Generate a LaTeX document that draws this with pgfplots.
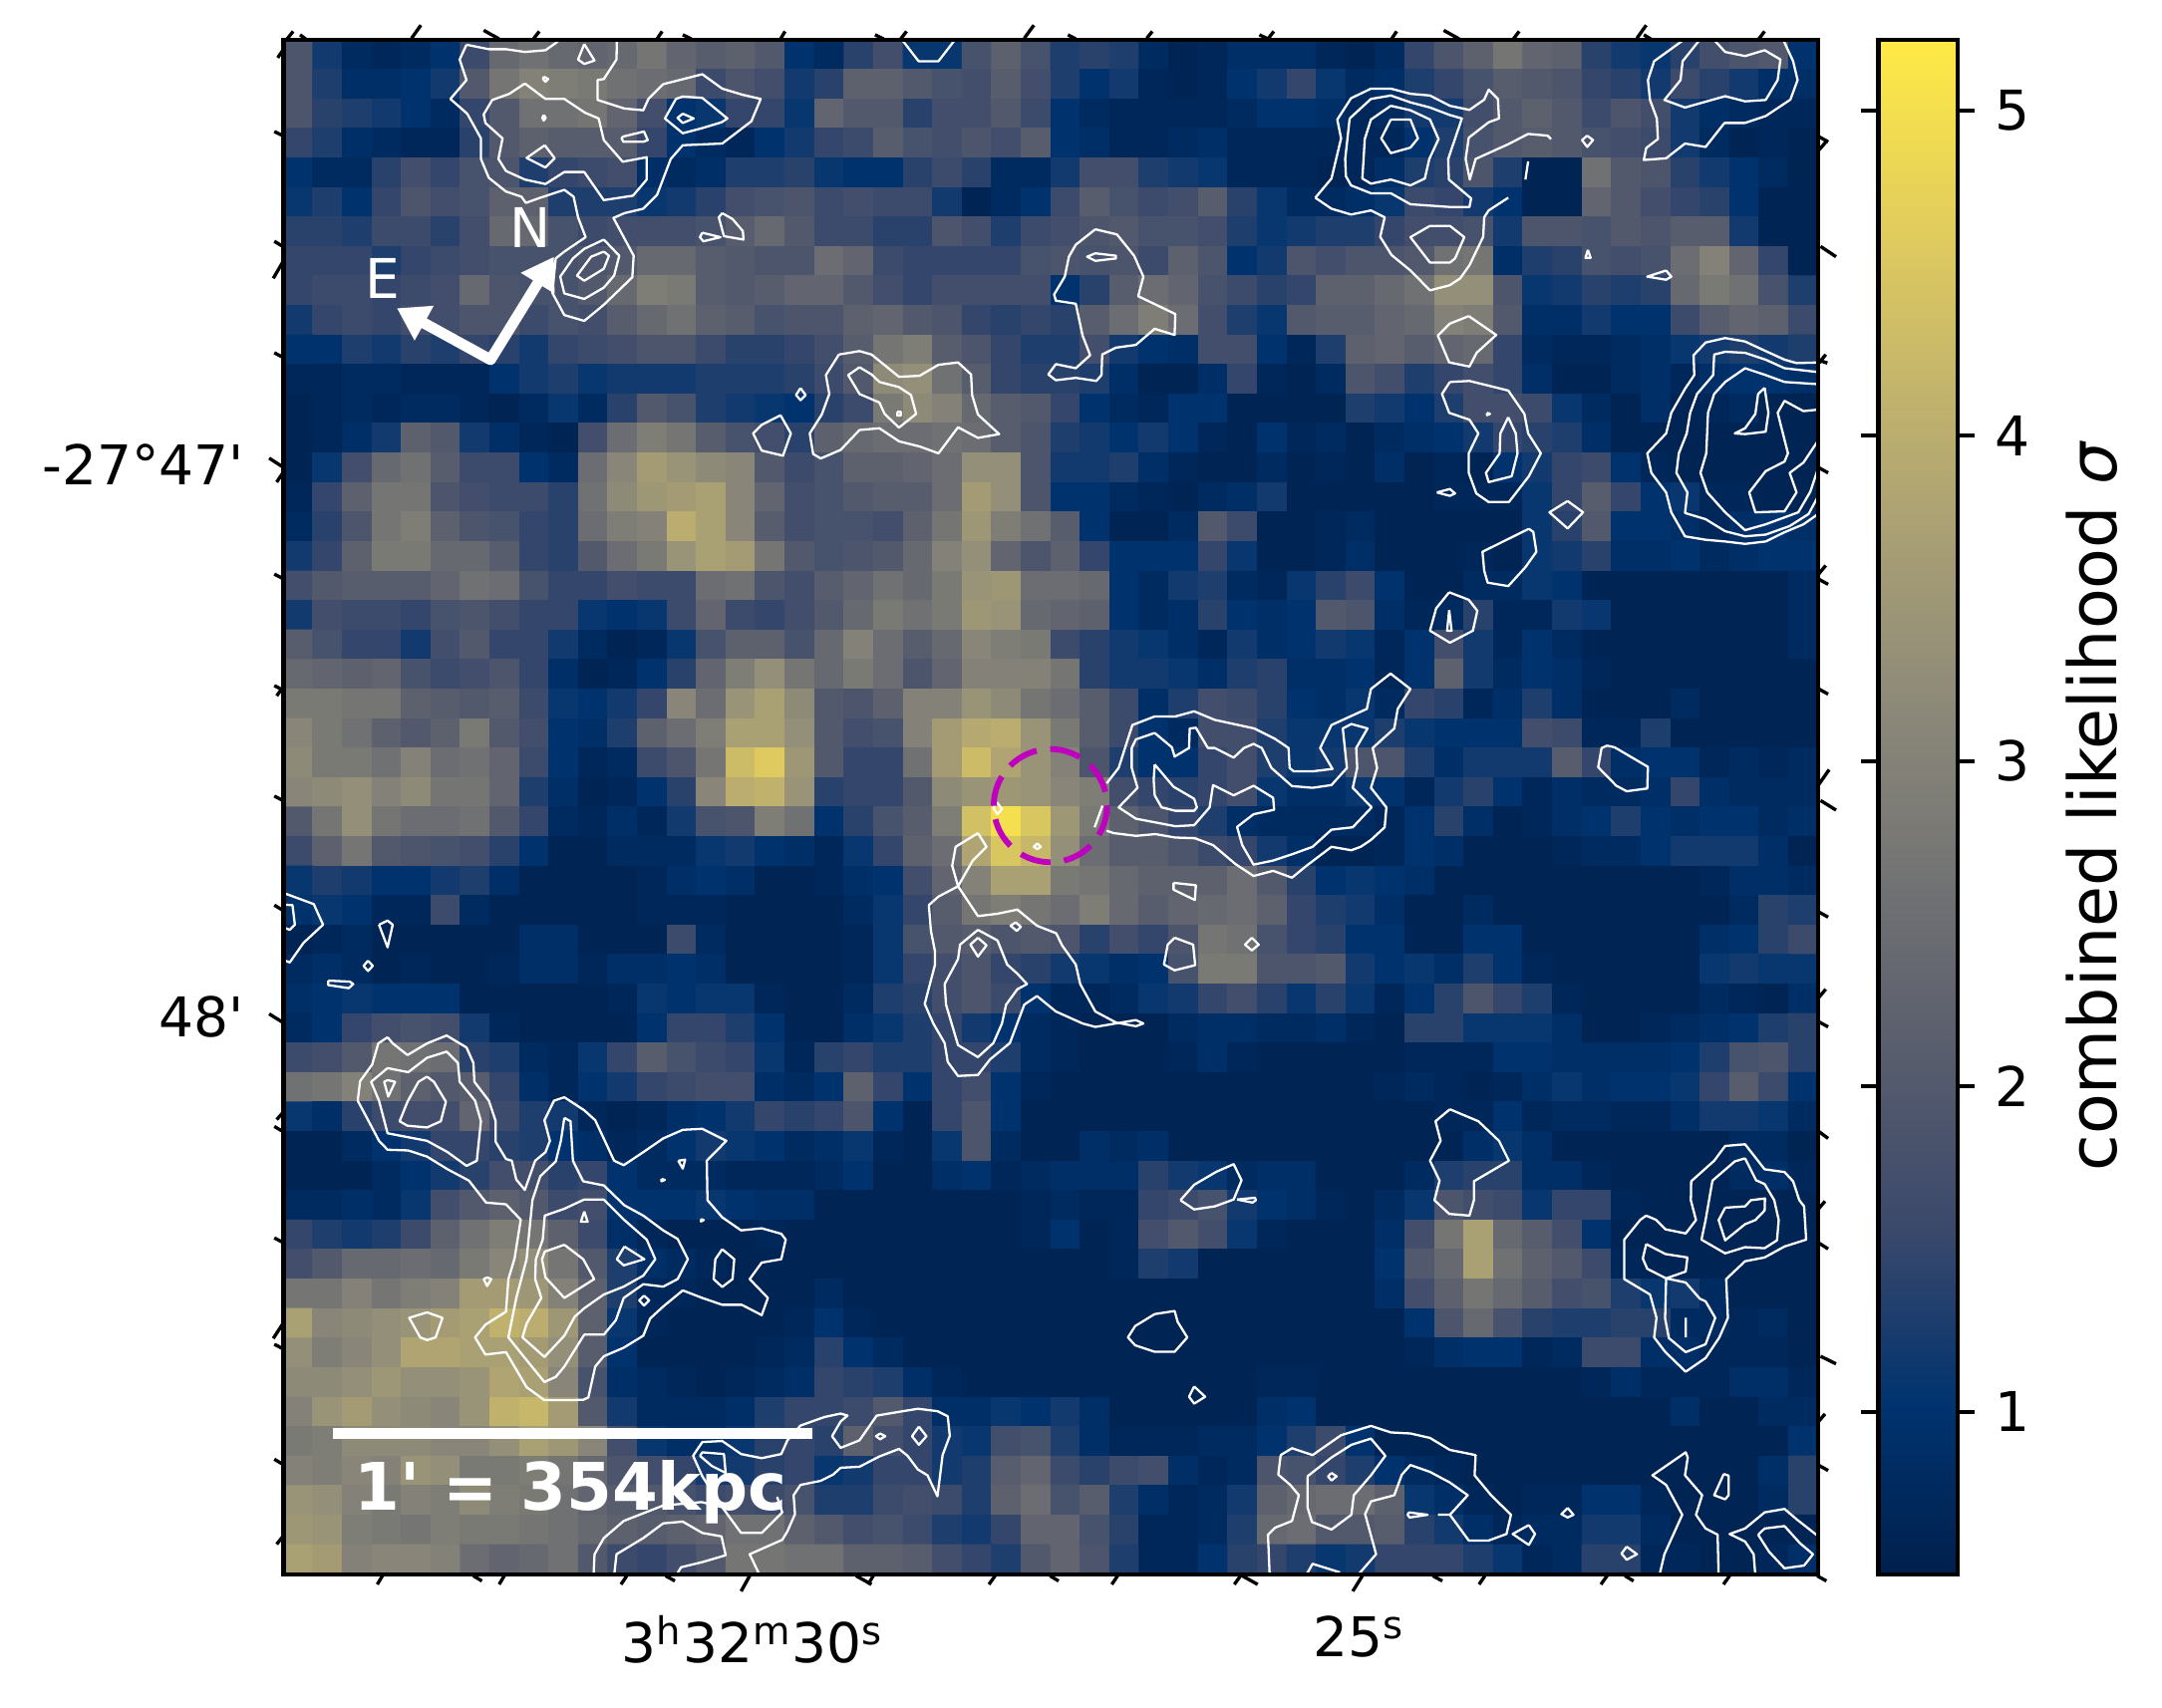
\documentclass[border=0pt]{standalone}
\usepackage{fontspec}
\setmainfont{DejaVu Sans}[Ligatures=TeXOff]
\usepackage{pgfplots}
\pgfplotsset{compat=1.18}
\usetikzlibrary{arrows.meta}
\pgfplotsset{colormap={cividis}{rgb255=(0,32,77) rgb255=(0,51,111) rgb255=(57,72,107) rgb255=(87,92,109) rgb255=(112,113,115) rgb255=(138,135,121) rgb255=(166,157,117) rgb255=(196,181,108) rgb255=(228,207,91) rgb255=(255,234,70)}}
\newcommand\mf{\fontsize{13.2}{16}\selectfont}
% heat map rows, top to bottom, values in tenths of sigma
\newcount\hi \newcount\hj
\def\cells{}
\newcommand\heatrow[1]{\hi=0 \def\rowcells{}%
  \pgfplotsforeachungrouped \v in {#1}{\pgfmathparse{\v/10}%
    \edef\rowcells{\rowcells (\the\numexpr 85+86*\hi\relax,\the\numexpr 87+86*\hj\relax)[\pgfmathresult] }%
    \advance\hi by 1 }%
  \xdef\cells{\cells\rowcells}\advance\hj by 1 }
\heatrow{19,12,8,7,8,10,16,24,26,24,23,24,27,23,21,22,20,10,8,14,17,11,11,18,22,18,13,14,13,8,6,7,9,9,9,7,6,8,15,19,22,27,23,22,14,12,11,14,17,19,20,10}
\heatrow{19,13,9,9,10,12,20,27,30,29,28,26,25,24,16,19,17,12,14,22,22,20,18,17,21,17,13,10,12,7,6,7,10,12,15,11,8,9,13,15,18,21,20,19,15,14,12,16,14,12,9,9}
\heatrow{19,14,13,12,10,8,15,20,26,26,27,23,17,10,11,15,15,11,23,20,20,14,17,17,20,16,10,8,7,7,7,7,8,10,10,9,7,8,12,12,17,20,22,20,16,19,17,12,9,8,7,7}
\heatrow{15,13,9,8,7,7,14,20,22,21,21,21,15,10,8,7,10,12,15,16,21,18,17,19,17,21,10,9,7,7,8,9,7,7,7,7,7,7,10,13,18,20,21,20,18,17,16,12,8,6,7,6}
\heatrow{10,8,8,14,17,15,18,19,13,15,16,17,9,8,9,13,13,14,11,10,10,14,16,14,8,8,12,17,17,13,12,11,7,7,7,6,7,9,13,14,19,13,6,6,26,20,19,14,12,10,8,6}
\heatrow{11,13,10,15,19,17,18,22,22,13,13,13,11,12,14,17,18,19,16,17,16,16,12,6,8,10,16,21,18,16,17,21,14,11,8,8,9,11,16,15,12,10,6,6,23,20,17,15,14,10,6,6}
\heatrow{14,14,13,16,16,14,17,24,24,18,16,17,17,17,18,21,24,20,16,16,14,14,19,17,13,16,17,19,20,18,18,17,13,11,12,13,13,15,17,17,18,12,19,19,18,20,19,21,21,12,6,6}
\heatrow{15,15,15,13,15,16,17,18,18,18,19,20,24,24,21,20,19,19,25,23,16,15,15,15,15,18,19,18,19,16,22,19,10,12,19,17,19,19,20,26,27,9,13,14,18,17,18,25,30,23,15,6}
\heatrow{15,16,16,15,16,17,24,19,18,18,20,24,29,28,21,20,21,23,23,20,17,15,17,17,17,17,10,14,21,25,23,18,16,14,15,22,22,24,26,33,33,19,11,12,14,13,14,24,28,26,18,13}
\heatrow{12,15,16,15,17,17,19,19,16,18,17,21,24,26,22,21,18,19,19,22,23,20,19,15,14,15,14,21,25,29,25,17,13,11,20,21,21,23,24,30,29,20,9,9,12,10,10,16,21,23,22,16}
\heatrow{10,10,13,12,14,13,15,14,12,15,16,17,19,19,16,14,14,15,17,21,27,29,21,19,15,13,13,17,12,10,9,17,17,10,7,13,22,23,21,23,24,15,8,7,7,8,9,11,12,13,12,13}
\heatrow{7,7,8,8,7,7,7,10,12,13,11,12,12,12,13,13,13,14,16,20,32,33,26,21,15,14,14,13,9,6,6,9,15,7,6,8,19,17,13,15,17,15,9,6,6,8,9,7,9,10,10,9}
\heatrow{6,7,8,7,8,8,7,6,8,11,8,14,20,18,13,12,11,10,14,16,28,32,30,24,21,20,15,10,8,7,10,10,6,6,6,6,13,12,10,13,17,17,16,11,8,6,9,6,7,8,6,6}
\heatrow{6,7,9,12,22,20,12,9,7,6,17,25,29,27,21,18,17,14,22,24,25,25,26,25,21,19,13,12,10,12,10,7,6,10,7,8,6,8,9,10,12,15,14,13,9,6,6,6,6,6,6,6}
\heatrow{6,11,17,24,26,21,16,16,10,8,25,31,36,34,32,31,20,16,18,22,22,23,25,33,33,19,12,12,13,9,7,6,6,8,6,7,6,9,6,7,6,10,12,15,16,10,7,6,6,6,6,6}
\heatrow{7,15,22,27,27,19,17,16,16,14,26,32,35,36,37,31,23,17,18,20,21,21,25,36,33,19,10,10,8,7,6,8,9,12,6,6,6,6,6,7,7,7,11,15,21,15,10,11,7,7,6,6}
\heatrow{8,14,19,27,29,22,19,18,15,14,25,29,30,40,37,31,21,17,18,18,17,22,27,35,29,26,21,10,6,6,8,20,16,6,6,7,8,6,6,6,6,6,11,14,20,10,10,9,7,9,10,9}
\heatrow{12,15,22,28,28,24,24,21,15,14,20,25,28,34,37,36,27,20,18,19,20,24,30,33,23,19,22,15,10,10,10,15,11,6,6,7,9,6,6,6,7,6,11,12,14,9,9,10,8,9,10,10}
\heatrow{17,20,21,21,21,23,26,25,18,15,15,17,16,16,25,26,19,17,21,23,26,24,28,34,35,25,25,24,10,8,12,13,8,7,11,14,16,10,6,6,8,8,11,10,6,6,6,6,6,6,6,8}
\heatrow{12,17,16,16,15,18,19,17,15,15,11,10,11,16,23,16,15,17,20,24,28,26,28,35,34,24,23,22,10,8,9,14,10,9,10,20,19,9,7,8,14,7,7,12,11,6,6,6,6,6,6,8}
\heatrow{21,18,15,15,12,17,20,15,15,12,8,6,7,11,18,22,22,18,24,30,25,21,24,31,29,28,16,14,12,11,9,7,12,9,10,12,11,7,10,17,12,7,10,8,6,6,6,6,6,6,6,8}
\heatrow{24,23,22,23,18,16,17,19,15,9,6,7,10,14,23,29,33,27,24,28,25,19,23,30,30,30,27,14,12,12,11,9,13,14,9,9,10,7,10,22,12,8,10,9,7,6,6,6,6,6,6,6}
\heatrow{28,28,27,27,22,21,20,21,16,11,10,12,15,31,25,34,37,32,20,19,22,30,30,34,32,27,25,21,16,9,13,17,16,14,10,9,11,8,15,14,7,9,13,9,6,6,6,8,6,6,6,6}
\heatrow{31,28,26,22,20,22,28,20,17,10,9,13,22,25,29,37,37,33,20,17,18,30,36,39,40,34,28,21,16,10,8,17,17,13,11,11,11,13,11,10,10,10,17,16,7,7,13,6,6,6,6,6}
\heatrow{32,28,28,26,30,25,26,23,16,10,7,8,16,19,27,43,46,35,20,15,15,26,36,43,38,34,30,19,13,10,10,15,17,13,11,12,19,19,13,9,12,12,12,21,15,9,10,10,7,8,7,8}
\heatrow{31,32,33,30,32,27,27,23,13,9,6,7,10,14,31,40,41,34,14,15,15,20,32,34,35,34,31,29,17,15,14,15,17,11,9,9,11,10,7,12,14,10,7,9,8,8,9,15,9,8,8,8}
\heatrow{20,27,33,27,25,25,26,20,15,8,7,9,7,12,18,19,29,26,10,14,18,21,29,44,50,45,35,28,22,19,15,13,9,8,8,8,8,7,10,14,9,6,7,9,10,13,10,9,10,10,8,9}
\heatrow{16,22,27,20,19,18,17,14,10,6,6,8,8,8,11,12,10,9,7,11,15,22,25,38,45,42,33,25,21,21,19,16,15,12,9,6,6,7,10,9,6,6,6,7,8,8,10,12,12,12,9,6}
\heatrow{11,13,12,10,10,12,13,9,6,6,6,6,7,9,10,9,6,6,7,9,10,17,23,30,37,37,28,27,24,22,22,22,25,20,14,10,11,10,9,6,6,6,6,6,6,6,6,6,7,9,9,8}
\heatrow{10,11,10,7,7,16,8,6,6,6,6,6,7,7,7,6,6,6,6,8,11,15,21,27,29,27,25,29,24,21,23,24,25,22,15,13,12,9,6,6,8,6,6,6,6,6,6,6,6,8,14,13}
\heatrow{6,7,8,6,6,6,6,6,9,9,6,6,6,16,8,6,6,6,6,7,11,18,20,21,19,20,19,14,17,15,19,27,26,18,15,14,10,10,6,6,10,10,6,6,6,6,6,6,9,10,14,16}
\heatrow{8,9,8,6,7,6,6,7,9,9,7,9,9,10,9,6,6,6,6,7,11,15,17,19,15,14,12,11,9,10,18,28,28,19,19,20,12,10,11,9,13,10,7,6,6,6,6,6,11,12,11,11}
\heatrow{9,10,11,10,10,10,6,6,6,6,6,7,11,10,11,11,7,6,6,8,13,14,17,19,16,10,7,7,8,11,12,15,17,14,11,14,11,7,10,14,19,15,13,7,6,6,6,6,8,7,6,9}
\heatrow{8,10,15,17,18,17,12,7,6,6,6,6,10,15,15,13,10,6,6,9,11,13,15,12,10,8,7,6,6,6,8,9,9,8,8,9,7,6,14,14,11,11,11,9,6,6,7,8,9,10,13,14}
\heatrow{16,17,20,27,26,25,14,13,8,7,11,15,21,18,16,15,11,7,14,15,13,13,15,15,13,8,7,6,6,6,7,9,7,6,6,6,6,6,7,7,7,10,10,9,9,9,9,10,13,18,19,14}
\heatrow{26,27,30,26,22,20,21,15,9,7,10,12,15,16,17,17,9,8,10,22,15,10,15,17,10,7,6,6,6,6,6,6,6,6,6,6,6,7,8,7,6,7,9,11,9,10,10,11,15,21,16,10}
\heatrow{11,9,14,16,17,17,23,16,13,12,7,6,7,9,10,12,15,14,15,19,10,6,15,19,10,6,6,6,6,6,6,6,6,6,6,6,6,6,6,7,7,10,7,8,8,7,7,9,12,12,11,8}
\heatrow{6,6,8,10,12,15,15,14,13,10,9,7,8,10,12,11,10,8,9,11,7,6,11,19,8,6,6,9,8,9,6,6,6,6,6,6,6,6,6,6,9,11,9,6,6,6,6,6,6,8,8,6}
\heatrow{6,6,6,8,10,12,14,17,17,14,15,10,8,8,8,7,7,7,8,10,6,6,9,10,7,8,9,9,9,14,12,11,8,9,9,6,6,6,8,13,14,14,9,9,7,6,6,6,6,8,9,7}
\heatrow{8,8,9,8,11,17,20,22,20,16,17,10,10,10,11,10,9,9,6,6,6,6,6,6,6,7,8,7,7,15,16,18,12,10,9,7,6,8,11,19,17,16,11,15,15,7,6,6,6,6,6,6}
\heatrow{15,13,12,13,16,22,26,29,27,22,16,9,7,6,6,6,7,6,6,6,6,6,6,6,6,7,10,6,7,17,20,17,11,7,6,6,6,9,17,27,37,24,21,17,10,6,6,6,6,6,6,6}
\heatrow{17,20,24,24,25,24,28,31,33,27,20,13,9,8,7,6,6,6,6,6,6,6,6,6,6,6,6,6,7,13,12,6,6,6,6,6,6,10,20,24,37,26,22,20,16,7,6,6,6,6,6,6}
\heatrow{27,27,30,27,29,30,36,36,35,30,22,13,7,7,6,6,6,6,8,6,6,6,6,6,6,6,6,6,6,6,6,6,6,6,6,6,6,9,17,22,27,24,21,17,18,13,11,12,8,6,6,6}
\heatrow{37,31,32,33,34,36,37,41,40,35,22,11,7,6,6,6,6,7,10,7,6,6,6,6,6,6,6,6,6,6,6,6,6,6,6,6,6,6,10,19,24,18,14,13,13,14,14,8,8,7,8,6}
\heatrow{33,29,31,33,38,38,37,37,36,33,21,10,6,6,6,6,7,8,14,10,8,6,6,6,6,6,6,6,6,6,6,6,6,6,6,6,6,6,7,9,10,10,7,8,16,16,9,9,7,7,7,6}
\heatrow{32,32,33,35,33,33,34,38,37,31,18,9,8,7,6,7,8,9,15,14,13,9,7,6,6,6,6,6,6,6,6,6,6,7,7,6,6,6,6,6,6,6,6,6,7,9,7,7,7,9,9,7}
\heatrow{30,34,36,33,32,31,34,41,42,36,20,12,8,8,8,9,13,15,15,16,20,15,9,9,11,10,12,9,6,6,6,6,6,9,10,6,6,6,6,6,6,6,6,6,6,6,6,9,6,6,8,8}
\heatrow{28,29,32,32,32,31,31,33,37,35,31,17,11,9,9,11,14,15,14,22,17,15,12,11,17,18,13,9,7,7,7,8,8,10,13,16,10,6,6,6,6,6,6,6,6,6,6,6,6,6,6,10}
\heatrow{30,29,31,30,34,33,28,28,29,27,24,19,17,15,12,12,14,15,11,12,15,15,12,13,21,23,16,14,16,17,9,7,8,19,18,15,13,10,8,7,6,6,6,6,6,6,6,6,6,6,9,14}
\heatrow{34,33,30,28,30,29,32,29,28,26,23,21,20,18,16,17,16,18,13,13,16,17,16,13,22,25,18,21,13,9,7,8,12,22,24,25,25,22,11,9,7,6,7,7,10,10,7,6,6,6,8,14}
\heatrow{35,34,29,28,27,29,28,28,27,26,24,22,21,22,23,26,26,22,20,17,18,16,13,12,15,23,23,18,14,7,7,8,13,24,25,20,20,21,14,12,9,7,8,8,12,12,8,6,6,6,6,6}
\heatrow{37,36,30,31,31,30,25,23,24,26,20,16,15,17,20,27,27,26,26,22,22,21,17,15,13,20,23,19,13,7,7,10,14,15,13,11,12,15,15,15,13,11,7,8,14,14,7,7,6,6,7,9}
% slanted sky-coordinate ticks, drawn outside the frame
\newcommand\tk[4]{\draw[black,line width=0.8pt] (axis cs:#1,#2) -- (axis cs:#3,#4);}
\begin{document}
\begin{tikzpicture}
\useasboundingbox (-68.28pt,-32.16pt) rectangle (452.28pt,379.2pt);
\begin{axis}[
  scale only axis, width=369.5pt, height=369.5pt,
  xmin=42, xmax=4513, ymin=44, ymax=4516, y dir=reverse,
  axis on top, axis line style={line width=1pt},
  major tick length=0pt,
  xtick={1409,3176}, xticklabels={3\textsuperscript{h}32\textsuperscript{m}30\textsuperscript{s},25\textsuperscript{s}},
  ytick={1281,2892}, yticklabels={-27°47',48'},
  tick label style={font=\mf},
  xticklabel style={yshift=-6.4pt}, yticklabel style={xshift=-6pt},
  colormap name=cividis, point meta min=0.5, point meta max=5.216,
  colorbar,
  colorbar/width=19pt,
  colorbar shift/.style={xshift=9.8pt},
  colorbar style={
    ytick={1,2,3,4,5}, yticklabels={1,2,3,4,5},
    yticklabel pos=right, ytick pos=both, tick align=outside, major tick length=4.2pt,
    axis line style={line width=1pt}, tick style={line width=1pt,black},
    tick label style={font=\mf}, yticklabel style={xshift=1.3pt},
    ylabel style={font=\fontsize{16}{19}\selectfont}, ylabel shift=2pt,
    ylabel={combined likelihood {\itshape σ}},
  },
  tile/.style 2 args={x filter/.expression={x+1510*#1}, y filter/.expression={y+1510*#2}},
  cont/.style={white, line width=0.55pt, line join=round, no markers, unbounded coords=jump, empty line=jump, forget plot},
  after end axis/.code={
    \tk{50}{43}{70}{18}\tk{90}{28}{110}{43}\tk{415}{38}{442}{0}\tk{625}{15}{670}{40}\tk{770}{40}{787}{18}\tk{1130}{40}{1145}{18}\tk{1205}{28}{1230}{40}\tk{1490}{40}{1503}{18}
    \tk{1765}{28}{1790}{40}\tk{1840}{40}{1857}{18}\tk{2200}{38}{2228}{0}\tk{2327}{28}{2350}{40}\tk{2557}{38}{2573}{18}\tk{2885}{28}{2910}{40}\tk{2910}{40}{2927}{18}
    \tk{3270}{40}{3285}{18}\tk{3422}{15}{3467}{40}\tk{3625}{40}{3642}{18}\tk{3985}{38}{4012}{0}\tk{4005}{28}{4025}{40}\tk{4340}{40}{4357}{18}
    \tk{315}{4545}{330}{4520}\tk{595}{4520}{620}{4535}\tk{670}{4545}{685}{4520}\tk{1025}{4545}{1042}{4520}\tk{1155}{4520}{1182}{4535}\tk{1375}{4565}{1400}{4520}
    \tk{1710}{4520}{1755}{4545}\tk{1745}{4545}{1760}{4520}\tk{2097}{4545}{2115}{4520}\tk{2275}{4520}{2300}{4535}\tk{2455}{4545}{2472}{4520}\tk{2812}{4545}{2830}{4520}\tk{2835}{4520}{2880}{4545}
    \tk{3157}{4565}{3185}{4520}\tk{3390}{4520}{3418}{4535}\tk{3525}{4545}{3542}{4520}\tk{3880}{4545}{3898}{4520}\tk{3950}{4520}{3975}{4535}\tk{4237}{4545}{4255}{4520}\tk{4510}{4520}{4537}{4535}
    \tk{25}{95}{42}{70}\tk{15}{310}{40}{322}\tk{15}{630}{40}{645}\tk{12}{738}{40}{690}\tk{15}{955}{40}{968}\tk{0}{1262}{40}{1288}\tk{22}{1332}{40}{1305}
    \tk{15}{1600}{40}{1613}\tk{15}{1925}{40}{1938}\tk{22}{1955}{40}{1930}\tk{15}{2247}{40}{2260}\tk{15}{2565}{40}{2580}\tk{0}{2882}{40}{2907}
    \tk{22}{3190}{40}{3170}\tk{15}{3210}{40}{3225}\tk{15}{3535}{40}{3548}\tk{12}{3828}{40}{3785}\tk{15}{3845}{40}{3858}\tk{15}{4180}{40}{4195}\tk{22}{4428}{40}{4405}
    \tk{4510}{370}{4540}{335}\tk{4515}{325}{4542}{340}\tk{4520}{645}{4565}{675}\tk{4510}{975}{4540}{985}\tk{4515}{985}{4535}{960}\tk{4515}{1290}{4542}{1305}
    \tk{4510}{1605}{4535}{1575}\tk{4515}{1615}{4542}{1630}\tk{4515}{1935}{4542}{1950}\tk{4510}{2220}{4545}{2170}\tk{4520}{2260}{4565}{2288}\tk{4515}{2585}{4542}{2600}\tk{4510}{2840}{4535}{2810}\tk{4515}{2905}{4542}{2920}
    \tk{4515}{3225}{4542}{3245}\tk{4510}{3455}{4533}{3428}\tk{4515}{3550}{4542}{3567}\tk{4520}{3880}{4565}{3902}\tk{4510}{4075}{4533}{4048}\tk{4515}{4198}{4542}{4213}
  },
]
\edef\heatplot{\noexpand\addplot[matrix plot*, point meta=explicit, mesh/cols=52, mesh/ordering=x varies, forget plot] coordinates {\cells};}
\heatplot
% contours, read in crops of 1510 units
\addplot[cont,tile={0}{0}] coordinates {
(575,57)(640,70)(690,70)(745,78)(805,73)(835,52)(860,30)

(575,57)(555,100)(575,160)(528,215)(577,258)(617,330)(617,390)(640,445)(690,485)(735,500)(748,518)(790,503)(860,480)(887,500)(900,560)(922,618)(860,660)(835,680)(825,780)(860,845)(918,862)(975,815)(1058,735)(1062,672)(1003,562)(1035,548)(1090,535)(1130,495)(1170,390)(1205,350)(1320,345)(1405,280)(1432,215)(1380,203)(1320,185)(1262,143)(1148,172)(1105,215)(1090,248)(1035,243)(957,218)(957,160)(975,157)(1012,100)(1013,40)

(745,170)(805,215)(860,215)(920,255)(960,272)(975,335)(1030,398)(1100,385)(1100,450)(1060,497)(975,510)(918,428)(860,428)(805,463)(745,450)(690,425)(668,390)(680,330)(630,285)(625,260)(650,218)(700,200)(745,170)

(803,350)(832,388)(805,415)(750,387)(803,350)

(800,150)(813,157)(805,165)(798,157)(800,150)

(800,262)(806,270)(800,278)(796,270)(800,262)

(918,55)(948,103)(918,113)(900,100)(918,55)

(1030,325)(1092,310)(1103,335)(1090,340)(1032,340)(1027,330)(1030,325)

(1185,215)(1205,208)(1262,212)(1335,272)(1318,283)(1262,300)(1205,315)(1153,272)(1185,215)

(1205,258)(1237,272)(1205,285)(1190,270)(1205,258)

(1262,605)(1315,618)(1265,630)(1255,618)(1262,605)

(1320,548)(1350,565)(1380,600)(1382,625)(1325,615)(1310,560)(1320,548)

(975,625)(1020,672)(1005,730)(975,765)(918,798)(860,782)(848,733)(885,680)(918,652)(975,625)

(975,660)(990,672)(975,710)(918,745)(897,730)(938,675)(975,660)

(1548,1058)(1563,1078)(1548,1093)(1535,1078)(1548,1058)

(1490,1137)(1520,1190)(1497,1255)(1435,1240)(1410,1190)(1435,1165)(1490,1137)
};
\addplot[cont,tile={1}{0}] coordinates {
(332,40)(382,105)(440,105)(490,40)

(150,960)(210,950)(245,960)(325,1025)(385,1022)(440,990)(497,983)(535,1018)(538,1078)(555,1135)(617,1192)(555,1203)(497,1172)(440,1248)(385,1228)(325,1213)(268,1175)(210,1180)(155,1238)(97,1263)(75,1250)(65,1190)(100,1135)(122,1075)(112,1020)(150,960)

(210,997)(245,1018)(268,1040)(325,1055)(360,1078)(375,1133)(325,1173)(283,1133)(268,1100)(210,1075)(177,1020)(210,997)

(320,1127)(330,1127)(330,1138)(320,1138)(320,1127)

(897,595)(960,610)(1010,672)(1037,733)(1022,790)(1130,842)(1128,903)(1070,885)(1015,932)(957,940)(917,960)(915,1020)(900,1037)(840,1028)(782,1035)(760,1018)(782,988)(840,1000)(882,962)(860,905)(840,812)(782,803)(777,785)(808,733)(820,675)(840,640)(897,595)

(897,665)(957,672)(957,680)(897,687)(873,675)(897,665)
};
\addplot[cont,tile={2}{0}] coordinates {
(28,503)(75,447)(103,330)(92,275)(132,213)(190,185)(248,185)(305,200)(362,205)(420,235)(477,247)(520,217)(533,188)(560,215)(563,272)(533,283)(475,328)(466,390)(478,450)(495,390)(590,347)(648,317)(705,322)(715,332)

(28,503)(75,535)(132,552)(190,540)(230,560)(217,617)(250,670)(305,715)(362,773)(420,758)(450,738)(477,700)(517,617)(520,560)(533,540)(590,503)

(128,272)(190,215)(248,205)(305,225)(362,240)(420,262)(455,272)(415,390)(417,450)(482,505)(477,530)(420,530)(305,522)(248,490)(190,490)(132,467)(117,440)(115,390)(128,272)

(248,235)(305,248)(362,275)(387,332)(360,390)(347,447)(305,467)(248,450)(190,462)(165,447)(172,332)(190,275)(248,235)

(248,275)(305,275)(327,330)(305,357)(248,373)(220,330)(248,275)

(820,322)(837,335)(820,355)(805,335)(820,322)

(648,397)(640,450)

(1105,40)(1015,105)(997,160)(1003,218)(1023,272)(1026,332)(992,358)(985,393)(1050,388)(1105,345)(1165,355)(1220,285)(1280,285)(1340,265)(1412,217)(1433,160)(1420,105)(1390,40)

(1150,40)(1098,105)(1092,160)(1045,218)(1105,240)(1222,207)(1280,222)(1340,218)(1375,160)(1383,100)(1337,73)(1280,90)(1222,78)(1187,40)

(362,585)(420,585)(462,618)(435,680)(420,692)(362,692)(305,618)(362,585)

(475,848)(555,903)(498,955)(477,995)(418,983)(385,905)(420,870)(475,848)

(822,655)(830,678)(815,678)(822,655)

(1050,715)(1065,733)(1050,742)(995,733)(1050,715)

(420,1040)(477,1037)(590,1065)(637,1133)(648,1190)(685,1248)(650,1315)(592,1390)(533,1390)(497,1365)(475,1305)(475,1248)(503,1190)(477,1150)(418,1130)(397,1075)(420,1040)

(590,1143)(612,1190)(617,1248)(600,1315)(533,1332)(525,1305)(565,1248)(567,1190)(590,1143)

(528,1130)(537,1133)(528,1137)(528,1130)

(382,1362)(420,1352)(435,1365)(420,1372)(382,1362)

(763,1387)(808,1420)(763,1467)(710,1420)(763,1387)

(1500,983)(1430,985)(1395,975)(1340,950)(1280,922)(1222,912)(1165,925)(1130,962)(1132,1020)(1105,1060)(1065,1130)(1050,1190)(995,1248)(1007,1305)(1050,1362)(1065,1420)(1105,1490)(1165,1500)(1222,1505)(1280,1512)(1340,1505)(1395,1478)(1450,1455)(1500,1420)

(1500,1012)(1395,1000)(1340,975)(1280,955)(1222,952)(1190,960)(1187,1020)(1140,1075)(1120,1130)(1110,1190)(1087,1248)(1080,1305)(1112,1362)(1105,1422)(1165,1440)(1222,1475)(1280,1490)(1340,1485)(1410,1460)(1465,1425)(1500,1360)

(1500,1047)(1395,1040)(1340,1020)(1280,1000)(1222,1040)(1190,1075)(1172,1130)(1167,1248)(1150,1305)(1170,1362)(1222,1420)(1280,1472)(1340,1455)(1435,1420)(1470,1360)(1500,1270)

(1337,1057)(1348,1130)(1340,1185)(1280,1192)(1250,1190)(1280,1175)(1310,1133)(1318,1075)(1337,1057)

(1500,1120)(1450,1125)(1395,1095)(1375,1130)(1405,1248)(1395,1272)(1340,1300)(1292,1362)(1310,1420)(1395,1417)(1430,1362)(1410,1305)(1450,1275)(1500,1200)
};
\addplot[cont,tile={0}{1}] coordinates {
(30,1015)(130,1052)(157,1112)(100,1165)(60,1222)(30,1210)

(30,1053)(68,1055)(75,1112)(60,1127)(30,1115)

(320,1112)(345,1100)(360,1112)(345,1178)(320,1112)

(288,1217)(302,1232)(288,1247)(275,1232)(288,1217)

(172,1275)(235,1278)(245,1285)(232,1297)(172,1288)(172,1275)
};
\addplot[cont,tile={1}{1}] coordinates {
(930,700)(965,655)(1005,530)(1070,505)(1130,505)(1185,490)(1245,515)(1360,540)(1420,570)(1460,597)(1463,655)(1475,665)(1530,665)(1588,658)(1552,597)(1585,530)(1688,483)(1700,425)(1757,380)(1815,425)(1778,483)(1768,540)(1705,597)(1718,655)(1700,713)(1745,770)(1740,828)(1700,865)(1670,885)(1643,895)(1585,885)(1510,942)(1470,975)(1415,955)(1358,970)(1305,935)(1240,880)(1187,860)(1130,858)(1072,848)(1015,853)(950,845)(930,838)

(1070,553)(1120,595)(1128,622)(1170,597)(1172,540)(1190,538)(1225,597)(1245,597)(1300,625)(1330,597)(1358,585)(1382,597)(1410,655)(1470,708)(1530,713)(1585,705)(1630,655)(1618,540)(1643,527)(1690,540)(1657,597)(1660,655)(1647,713)(1702,770)(1647,828)(1585,835)(1530,885)(1475,905)(1415,925)(1358,937)(1325,880)(1310,827)(1358,790)(1418,777)(1415,742)(1358,707)(1300,735)(1240,705)(1230,770)(1185,822)(1130,825)(1015,803)(965,770)(1020,713)(1003,655)(1003,597)(1015,572)(1070,553)

(1070,645)(1125,710)(1185,745)(1193,770)(1185,780)(1130,780)(1090,770)(1070,735)(1067,690)(1070,645)

(610,755)(625,775)(612,790)(600,772)(610,755)

(728,875)(738,885)(728,892)(718,885)(728,875)

(918,765)(895,828)

(555,845)(580,885)(540,925)(497,1000)(440,1030)(412,1055)(418,1130)(430,1190)(430,1228)(400,1343)(425,1400)(458,1457)(467,1512)(497,1553)(555,1550)(590,1505)(648,1457)(690,1345)(727,1320)(782,1365)(860,1400)(897,1410)(1015,1390)(1037,1400)(1015,1408)(957,1397)(897,1365)(853,1285)(840,1228)(800,1172)(783,1137)(727,1115)(670,1068)(612,1080)(555,1087)(497,1000)(480,940)(490,885)(555,845)

(555,1127)(612,1158)(640,1228)(670,1255)(698,1285)(670,1300)(637,1345)(625,1400)(600,1457)(555,1498)(497,1463)(462,1345)(458,1285)(497,1212)(503,1170)(555,1127)

(555,1150)(580,1172)(555,1205)(533,1170)(555,1150)

(665,1105)(680,1118)(668,1130)(650,1115)(665,1105)

(1125,990)(1190,997)(1187,1040)(1125,1010)(1125,990)

(1128,1150)(1182,1170)(1188,1230)(1128,1245)(1097,1228)(1108,1170)(1128,1150)

(1353,1150)(1373,1170)(1353,1187)(1333,1170)(1353,1150)
};
\addplot[cont,tile={2}{1}] coordinates {
(418,143)(475,165)(500,197)(487,255)(420,290)(362,255)(380,190)(418,143)

(418,195)(425,255)(412,255)(418,195)

(878,590)(900,595)(997,652)(995,715)(935,723)(905,707)(852,653)(862,597)(878,590)

(650,-42)(663,-33)(672,25)(640,70)(590,125)(530,115)(520,80)(515,25)(650,-42)
};
\addplot[cont,tile={0}{2}] coordinates {
(345,-70)(360,-52)(403,-18)(460,-52)(517,-75)(575,-40)(595,5)(598,60)(640,115)(660,175)(660,235)(690,285)(707,290)(720,345)(745,375)(775,290)(805,265)(818,232)(802,172)(830,115)(860,105)(918,143)(950,172)(1005,290)(1033,303)(1090,265)(1148,225)(1205,200)(1262,197)(1332,232)(1275,290)(1277,405)(1320,455)(1375,493)(1435,487)(1492,503)(1505,520)(1492,577)(1435,587)(1400,635)(1453,690)(1435,740)(1377,710)(1320,710)(1262,690)(1205,668)(1148,715)(1110,750)(1090,800)(1033,835)(975,860)(950,890)(930,980)(915,987)(860,988)(802,988)(750,950)(690,848)(630,855)(600,805)(630,768)(690,730)(697,635)(715,575)(733,462)(690,417)(632,412)(582,348)(520,315)(460,278)(405,260)(345,258)(320,232)(290,175)(258,115)(265,58)(300,10)(318,-52)(345,-70)

(345,20)(405,32)(460,-10)(517,-28)(550,5)(555,60)(600,115)(617,175)(605,290)(575,305)(520,265)(460,232)(345,210)(320,115)(297,60)(345,20)

(345,55)(367,60)(347,103)(335,60)(345,55)

(460,45)(480,60)(515,118)(500,175)(460,193)(403,188)(380,175)(403,118)(435,60)(460,45)

(860,165)(878,175)(885,290)(915,350)(975,362)(1035,420)(1090,450)(1148,493)(1190,518)(1220,577)(1190,635)(1148,657)(1090,650)(1033,690)(1010,755)(975,797)(918,797)(860,890)(835,920)(802,935)(745,865)(697,805)(720,690)(750,577)(767,405)(790,335)(835,292)(850,232)(860,165)

(918,403)(975,403)(1035,463)(1100,520)(1125,577)(1090,625)(1033,657)(975,680)(918,720)(890,745)(860,800)(802,862)(738,805)(750,765)(793,690)(775,635)(777,577)(797,520)(803,450)(860,430)(918,403)

(860,535)(915,577)(947,635)(860,690)(805,630)(795,577)(803,555)(860,535)

(918,438)(928,468)(908,468)(918,438)

(1035,540)(1093,577)(1033,595)(1013,577)(1035,540)

(1192,290)(1212,287)(1205,313)(1192,290)

(1143,343)(1153,346)(1143,350)(1143,343)

(1258,460)(1266,463)(1258,467)(1258,460)

(1320,548)(1355,577)(1350,635)(1320,658)(1295,635)(1300,577)(1320,548)

(1092,683)(1107,697)(1092,712)(1078,697)(1092,683)

(635,630)(647,635)(635,655)(625,635)(635,630)

(460,732)(505,748)(485,805)(460,813)(440,805)(408,748)(460,732)

(945,1500)(948,1437)(975,1390)(1033,1340)(1148,1295)(1260,1285)(1320,1300)

(1005,1500)(1012,1437)(1090,1390)(1148,1347)(1205,1342)(1262,1375)(1318,1385)(1330,1440)(1262,1460)(1200,1475)(1185,1500)

(1430,1500)(1400,1437)(1495,1395)(1510,1370)(1532,1320)(1528,1265)(1548,1235)(1607,1223)(1643,1205)(1665,1185)(1720,1182)(1778,1152)(1835,1130)(1860,1150)(1890,1190)(1918,1207)(1947,1268)(1955,1205)(1962,1148)(1983,1092)(1977,1035)(1947,1020)(1890,1013)(1835,1022)(1770,1033)(1720,1105)(1665,1127)(1640,1093)(1665,1050)(1685,1033)(1665,1027)(1618,1037)(1548,1062)(1510,1105)(1492,1145)(1435,1157)(1375,1145)(1320,1107)(1262,1110)(1235,1150)(1262,1210)(1320,1300)(1375,1375)(1435,1375)(1495,1315)(1480,1270)

(1255,1150)(1262,1140)(1325,1145)(1330,1200)(1290,1180)(1255,1150)
};
\addplot[cont,tile={1}{2}] coordinates {
(270,1085)(285,1093)(270,1102)(258,1093)(270,1085)

(383,1065)(405,1093)(383,1118)(363,1093)(383,1065)

(1070,737)(1128,728)(1137,760)(1165,805)(1128,847)(1070,847)(1013,828)(992,805)(1013,772)(1070,737)

(1185,948)(1217,978)(1185,998)(1170,978)(1185,948)

(1145,405)(1185,360)(1250,322)(1300,300)(1323,347)(1300,403)(1245,423)(1185,432)(1145,405)

(1310,403)(1362,398)(1365,405)(1355,412)(1310,403)
};
\addplot[cont,tile={2}{2}] coordinates {
(420,140)(503,175)(563,232)(592,290)(490,350)(490,405)(477,450)(418,445)(375,405)(390,348)(362,290)(393,232)(378,175)(420,140)

(992,450)(1020,462)(1048,490)(1107,502)(1137,463)(1122,405)(1123,350)(1190,290)(1222,247)(1280,242)(1337,315)(1395,323)(1420,350)(1438,405)(1452,423)(1458,520)(1395,540)(1337,572)(1280,583)(1225,635)(1230,748)(1205,805)(1165,865)(1107,905)(1048,848)(1015,805)(1022,748)(1003,680)(928,635)(928,520)(975,462)(992,450)

(1280,283)(1312,347)(1337,358)(1365,405)(1378,463)(1373,522)(1337,545)(1280,542)(1222,560)(1153,520)(1165,463)(1185,348)(1250,292)(1280,283)

(1222,427)(1280,423)(1297,405)(1338,400)(1337,435)(1310,463)(1280,475)(1222,522)(1203,463)(1222,427)

(992,533)(1048,562)(1112,572)(1107,613)(1050,633)(995,605)(982,575)(992,533)

(1050,633)(1107,645)(1148,692)(1165,700)(1193,748)(1165,825)(1107,848)(1058,807)(1047,750)(1050,633)

(1107,748)(1107,805)

(-105,1500)(-110,1380)(-90,1360)(-40,1340)(-20,1265)(-45,1235)(-80,1205)(-73,1148)(-40,1128)(20,1148)(103,1090)(190,1063)(248,1082)(305,1085)(362,1098)(420,1133)(495,1148)(492,1207)(540,1265)(598,1322)(585,1378)(533,1397)(475,1397)(420,1322)(472,1265)(420,1228)(362,1197)(305,1177)(280,1205)(258,1265)(190,1283)(173,1320)(205,1437)(150,1500)

(385,1322)(420,1322)

(5,1210)(75,1155)(133,1118)(190,1100)(232,1150)(190,1207)(140,1265)(133,1322)(75,1365)(18,1343)(5,1300)(5,1210)

(0,1500)(20,1465)(100,1490)

(75,1200)(90,1210)(75,1222)(65,1210)(75,1200)

(300,1315)(355,1322)(303,1330)(297,1322)(300,1315)

(650,1352)(668,1378)(650,1410)(603,1378)(650,1352)

(763,1302)(780,1322)(763,1330)(745,1320)(763,1302)

(935,1415)(965,1437)(935,1453)(920,1435)(935,1415)

(1218,1203)(1232,1208)(1232,1265)(1222,1277)(1190,1265)(1218,1203)

(1030,1500)(1045,1437)(1097,1322)(1050,1235)(1010,1207)(1107,1140)(1113,1155)(1105,1207)(1155,1265)(1137,1322)(1165,1362)(1200,1380)(1203,1500)

(1310,1500)(1305,1437)(1280,1400)(1235,1378)(1280,1362)(1337,1315)(1395,1305)(1430,1335)(1500,1390)

(1318,1380)(1337,1362)(1395,1355)(1440,1405)(1478,1437)(1452,1470)(1395,1478)(1350,1430)(1318,1380)
};
% direction arrows, source circle, scale bar
\addplot[white, line width=2.6pt, line cap=round, -{Triangle[length=7.5pt,width=9pt]}, forget plot] coordinates {(645,975)(830,675)};
\addplot[white, line width=2.6pt, line cap=round, -{Triangle[length=7.5pt,width=9pt]}, forget plot] coordinates {(645,975)(372,825)};
\addplot[white, line width=2.65pt, forget plot] coordinates {(187,4105)(1583,4105)};
\node[white,font=\mf] at (axis cs:760,590) {N};
\node[white,font=\mf] at (axis cs:330,737) {E};
\node[white,font=\fontsize{15.8}{18}\selectfont\bfseries,anchor=base west,inner sep=0pt] at (axis cs:246,4330) {1' = 354kpc};
\draw[color={rgb,255:red,191;green,0;blue,191},line width=1.4pt,dash pattern=on 7.4pt off 3.3pt] (axis cs:2276,2275) circle [radius=165];
\end{axis}
\end{tikzpicture}
\end{document}
